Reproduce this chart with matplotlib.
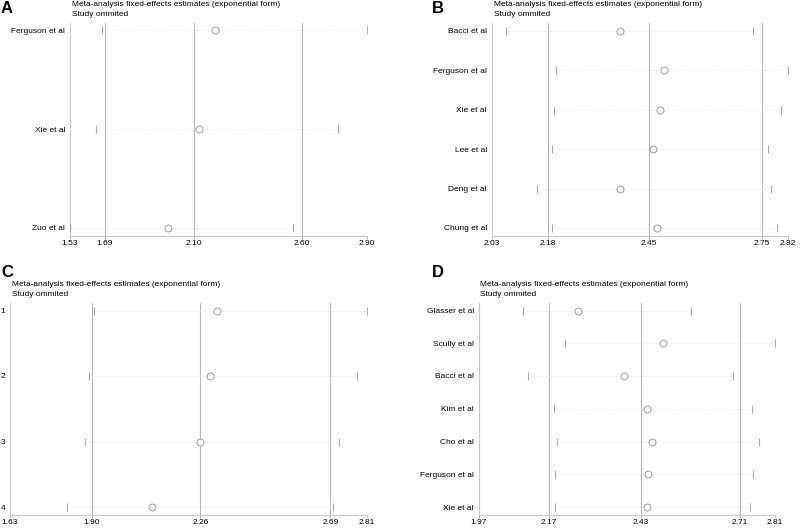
import matplotlib
matplotlib.use('Agg')
import matplotlib.pyplot as plt

plt.rcParams['font.family'] = ['Liberation Sans', 'DejaVu Sans']

# Panel A
a_studies = ['Ferguson et al', 'Xie et al', 'Zuo et al']
a_est = [2.20, 2.125, 1.98]
a_lo = [1.678, 1.649, 1.53]
a_hi = [2.90, 2.765, 2.559]
a_ref = [1.69, 2.10, 2.60]
a_ticks = [1.53, 1.69, 2.10, 2.60, 2.90]

# Panel B
b_studies = ['Bacci et al', 'Ferguson et al', 'Xie et al', 'Lee et al', 'Deng et al', 'Chung et al']
b_est = [2.372, 2.489, 2.478, 2.459, 2.373, 2.472]
b_lo = [2.068, 2.201, 2.197, 2.19, 2.151, 2.191]
b_hi = [2.726, 2.82, 2.802, 2.766, 2.774, 2.79]
b_ref = [2.18, 2.45, 2.75]
b_ticks = [2.03, 2.18, 2.45, 2.75, 2.82]

# Panel C
c_studies = ['1', '2', '3', '4']
c_est = [2.315, 2.292, 2.258, 2.099]
c_lo = [1.909, 1.892, 1.879, 1.817]
c_hi = [2.81, 2.779, 2.717, 2.70]
c_ref = [1.90, 2.26, 2.69]
c_ticks = [1.63, 1.90, 2.26, 2.69, 2.81]

# Panel D
d_studies = ['Glasser et al', 'Scully et al', 'Bacci et al', 'Kim et al', 'Cho et al', 'Ferguson et al', 'Xie et al']
d_est = [2.251, 2.493, 2.383, 2.448, 2.462, 2.451, 2.448]
d_lo = [2.097, 2.216, 2.109, 2.184, 2.193, 2.187, 2.187]
d_hi = [2.572, 2.81, 2.69, 2.746, 2.766, 2.749, 2.739]
d_ref = [2.17, 2.43, 2.71]
d_ticks = [1.97, 2.17, 2.43, 2.71, 2.81]

fig = plt.figure(figsize=(8, 5.28), dpi=100)


def panel(rect, letter, letter_xy, title_xy, studies, est, lo, hi, ref, ticks):
    ax = fig.add_axes(rect)
    n = len(studies)
    y = list(range(1, n + 1))
    h_px = rect[3] * 528
    sp = (h_px - 15.5) / max(n - 1, 1)
    ax.set_ylim(n + 8 / sp, 1 - 7.5 / sp)
    ax.set_xlim(ticks[0], ticks[-1])

    for r in ref:
        ax.axvline(r, color='#b8b8b8', lw=0.8, zorder=1)
    for yi, l, e, h in zip(y, lo, est, hi):
        ax.plot([l, h], [yi, yi], ls=(0, (1, 2)), color='#dedede', lw=0.7, zorder=2)
    ax.plot(lo, y, ls='none', marker='|', ms=6, mew=0.8, color='#aaaaaa', zorder=3)
    ax.plot(hi, y, ls='none', marker='|', ms=6, mew=0.8, color='#aaaaaa', zorder=3)
    ax.plot(est, y, ls='none', marker='o', ms=5, mfc='white', mec='#999999', mew=0.7, zorder=4)

    ax.set_yticks(y)
    ax.set_yticklabels(studies, fontsize=6)
    ax.set_xticks(ticks)
    ax.set_xticklabels([f'{t:.2f}' for t in ticks], fontsize=6)
    ax.tick_params(axis='y', length=0, pad=3.5)
    ax.tick_params(axis='x', length=2.5, width=0.6, color='#aaaaaa', pad=0.5)
    for s in ['top', 'right']:
        ax.spines[s].set_visible(False)
    for s in ['left', 'bottom']:
        ax.spines[s].set_color('#c8c8c8')
        ax.spines[s].set_linewidth(0.8)

    fig.text(letter_xy[0] / 800, 1 - letter_xy[1] / 528, letter, fontsize=12,
             fontweight='bold', va='top', ha='left')
    fig.text(title_xy[0] / 800, 1 - title_xy[1] / 528,
             'Meta-analysis fixed-effects estimates (exponential form)', fontsize=6, va='center')
    fig.text(title_xy[0] / 800, 1 - (title_xy[1] + 10) / 528, 'Study ommited', fontsize=6, va='center')
    return ax


panel([70 / 800, 1 - 236 / 528, 297 / 800, 213 / 528], 'A', (1, 1), (72, 4.5),
      a_studies, a_est, a_lo, a_hi, a_ref, a_ticks)
panel([491.7 / 800, 1 - 236 / 528, 296.3 / 800, 213 / 528], 'B', (432, 1), (494, 4.5),
      b_studies, b_est, b_lo, b_hi, b_ref, b_ticks)
panel([10 / 800, 1 - 515 / 528, 356.7 / 800, 212 / 528], 'C', (1, 265), (12, 285),
      c_studies, c_est, c_lo, c_hi, c_ref, c_ticks)
panel([478.7 / 800, 1 - 515 / 528, 296.3 / 800, 212 / 528], 'D', (432, 265), (480, 285),
      d_studies, d_est, d_lo, d_hi, d_ref, d_ticks)

fig.savefig('out.png', dpi=100, facecolor='white')
